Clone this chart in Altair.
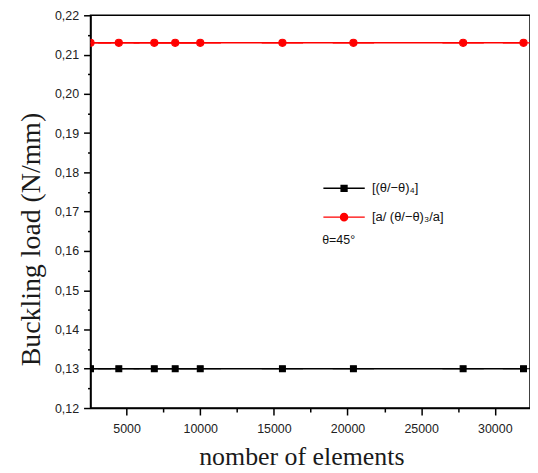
import altair as alt
import pandas as pd

# ---- data ----
n_elements = [2550, 4470, 6880, 8300, 10000, 15580, 20400, 27850, 31950]
load_series_1 = [0.130, 0.130, 0.130, 0.130, 0.130, 0.130, 0.130, 0.130, 0.130]
load_series_2 = [0.213, 0.213, 0.213, 0.213, 0.213, 0.213, 0.213, 0.213, 0.213]
series_names = ["[(θ/−θ)₄]", "[a/ (θ/−θ)₃/a]"]
series_colors = ["#000000", "#ff0000"]
legend_note = "θ=45°"

x_ticks = [5000, 7500, 10000, 12500, 15000, 17500, 20000, 22500, 25000, 27500, 30000]
y_ticks = [0.12, 0.125, 0.13, 0.135, 0.14, 0.145, 0.15, 0.155, 0.16, 0.165, 0.17,
           0.175, 0.18, 0.185, 0.19, 0.195, 0.20, 0.205, 0.21, 0.215, 0.22]

df = pd.DataFrame({
    "n": n_elements + n_elements,
    "load": load_series_1 + load_series_2,
    "series": [series_names[0]] * len(n_elements) + [series_names[1]] * len(n_elements),
})

# legend/marker glyphs: a line segment with a square / circle in the middle
square_path = "M-1,0H1M-0.14,-0.14H0.14V0.14H-0.14Z"
circle_path = "M-1,0H1M0.17,0A0.17,0.17 0 1,1 -0.17,0A0.17,0.17 0 1,1 0.17,0Z"

color_scale = alt.Scale(domain=series_names, range=series_colors)
shape_scale = alt.Scale(domain=series_names, range=[square_path, circle_path])

x_enc = alt.X(
    "n:Q",
    scale=alt.Scale(domain=[2550, 32390], nice=False, zero=False),
    axis=alt.Axis(
        values=x_ticks,
        title="nomber of elements",
        labelExpr="datum.value % 5000 === 0 ? datum.label : ''",
        format="d",
        tickSize={"condition": {"test": "datum.value % 5000 === 0", "value": 7}, "value": 4},
        labelPadding=8,
        titleX=212,
        titleY=57,
        titleBaseline="alphabetic",
        titleAnchor="start",
        titleAlign="center",
        titleFontSize=26,
    ),
)

y_enc = alt.Y(
    "load:Q",
    scale=alt.Scale(domain=[0.12, 0.22], nice=False, zero=False),
    axis=alt.Axis(
        values=y_ticks,
        title="Buckling load (N/mm)",
        labelExpr="abs(datum.value * 100 - round(datum.value * 100)) < 0.001 ? replace(format(datum.value, '.2f'), '.', ',') : ''",
        tickSize={"condition": {"test": "abs(datum.value * 100 - round(datum.value * 100)) < 0.001", "value": 7}, "value": 3},
        labelPadding=5,
        titleX=-45,
        titleY=225,
        titleAngle=270,
        titleBaseline="bottom",
        titleAlign="center",
        titleFontSize=28,
    ),
)

leg = alt.Legend(
    orient="none",
    legendX=233,
    legendY=152,
    title=legend_note,
    titleOrient="bottom",
    titleAnchor="start",
    titleFontWeight="normal",
    titleFontSize=12.5,
    titleFont="Liberation Sans",
    titleColor="#111111",
    titlePadding=10,
    labelFont="Liberation Sans",
    labelFontSize=13,
    labelColor="#111111",
    labelOffset=6,
    symbolSize=1731,
    symbolStrokeWidth=1.5,
    rowPadding=0,
)

base = alt.Chart(df)

lines = base.mark_line(clip=True, strokeWidth=1.5).encode(
    x=x_enc,
    y=y_enc,
    color=alt.Color("series:N", scale=color_scale, legend=leg),
)

points = base.mark_point(filled=False, clip=True, size=1731, strokeWidth=1.2, opacity=1).encode(
    x=x_enc,
    y=y_enc,
    color=alt.Color("series:N", scale=color_scale, legend=leg),
    fill=alt.Fill("series:N", scale=color_scale, legend=leg),
    shape=alt.Shape("series:N", scale=shape_scale, legend=leg),
)

chart = (
    alt.layer(lines, points)
    .properties(width=442, height=395, padding={"left": 9, "top": 0, "right": 0, "bottom": 0})
    .configure_view(stroke="#000000", strokeWidth=1.5)
    .configure_axis(
        grid=False,
        domainColor="#000000",
        domainWidth=1.5,
        tickColor="#000000",
        tickWidth=1.5,
        labelFont="Liberation Sans",
        labelFontSize=12.5,
        labelColor="#222222",
        titleFont="Liberation Serif",
        titleFontWeight="normal",
        titleColor="#1a1a1a",
    )
)

chart.save("out.html", embed_options={"renderer": "svg", "actions": False})
